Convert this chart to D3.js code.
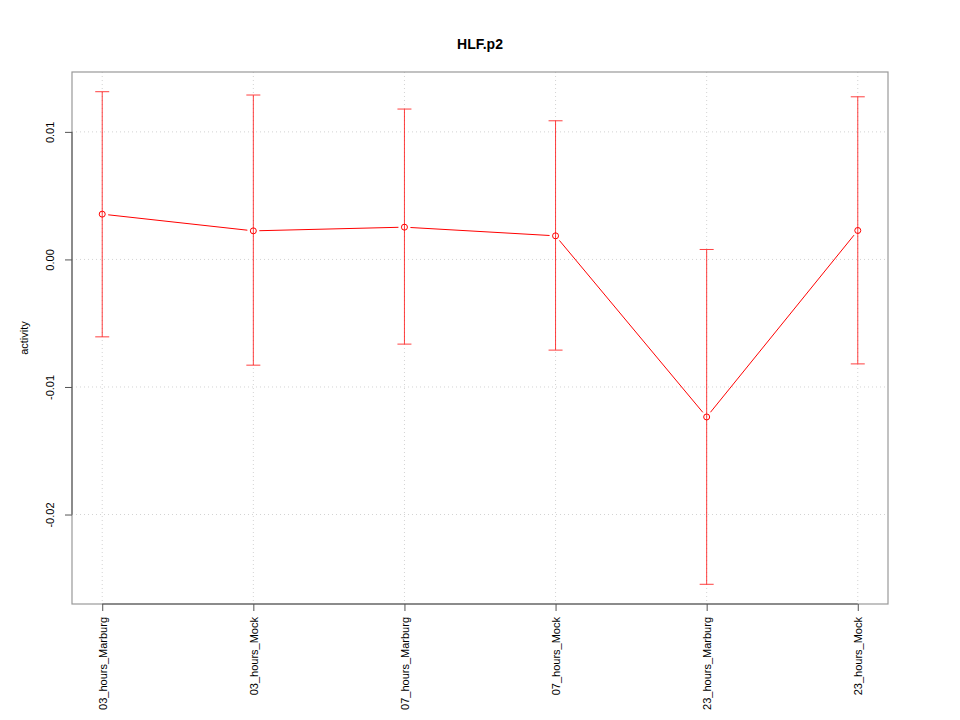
<!DOCTYPE html>
<html><head><meta charset="utf-8">
<script src="https://cdn.jsdelivr.net/npm/d3@7"></script>
<style>body{margin:0;background:#fff}svg{display:block}text{font-family:"Liberation Sans",Arial,sans-serif}</style>
</head><body>
<svg id="c" width="960" height="720"></svg>
<script>
const categories = ["03_hours_Marburg","03_hours_Mock","07_hours_Marburg","07_hours_Mock","23_hours_Marburg","23_hours_Mock"];
const values = [0.00355, 0.00224, 0.00253, 0.00185, -0.01235, 0.00227];
const upper = [0.01315, 0.01289, 0.01179, 0.01087, 0.00078, 0.01275];
const lower = [-0.00607, -0.00829, -0.00664, -0.00711, -0.02547, -0.00819];
const yTicks = [-0.02, -0.01, 0.00, 0.01];
const yTickLabels = ["-0.02", "-0.01", "0.00", "0.01"];
const title = "HLF.p2";
const yLabel = "activity";

const svg = d3.select("#c");
const L = 72, R = 888, T = 72, B = 604;
const n = categories.length;
const xpad = (n - 1) * 0.04;
const x = d3.scaleLinear().domain([1 - xpad, n + xpad]).range([L, R]);
const ymin = d3.min(lower), ymax = d3.max(upper), yp = (ymax - ymin) * 0.04;
const y = d3.scaleLinear().domain([ymin - yp, ymax + yp]).range([B, T]);
const FONT = '"Liberation Sans",Arial,sans-serif';

// grid
const g = svg.append("g");
categories.forEach((c, i) => {
  g.append("line").attr("x1", x(i + 1)).attr("x2", x(i + 1)).attr("y1", T).attr("y2", B)
    .attr("stroke", "#d3d3d3").attr("stroke-dasharray", "1,3");
});
yTicks.forEach(t => {
  g.append("line").attr("x1", L).attr("x2", R).attr("y1", y(t)).attr("y2", y(t))
    .attr("stroke", "#d3d3d3").attr("stroke-dasharray", "1,3");
});

// box
svg.append("rect").attr("x", L).attr("y", T).attr("width", R - L).attr("height", B - T)
  .attr("fill", "none").attr("stroke", "#999").attr("stroke-width", 1.2);

// axes
const yAxis = d3.axisLeft(y).tickValues(yTicks).tickFormat((d, i) => yTickLabels[i]).tickSize(7).tickPadding(0);
const ya = svg.append("g").attr("transform", `translate(${L},0)`).call(yAxis);
ya.select(".domain").attr("stroke", "#555").attr("d", `M-0,${y(yTicks[0])}V${y(yTicks[yTicks.length-1])}`);
ya.selectAll(".tick line").attr("stroke", "#555");
ya.selectAll(".tick text").attr("x", null).attr("dy", null)
  .attr("transform", "translate(-18,0) rotate(-90)").attr("text-anchor", "middle")
  .attr("font-size", 11).attr("fill", "#000").attr("font-family", FONT);

const xAxis = d3.axisBottom(x).tickValues(d3.range(1, n + 1)).tickFormat(d => categories[d - 1]).tickSize(7).tickPadding(0);
const xa = svg.append("g").attr("transform", `translate(0,${B})`).call(xAxis);
xa.select(".domain").attr("stroke", "#555").attr("d", `M${x(1)},0H${x(n)}`);
xa.selectAll(".tick line").attr("stroke", "#555");
xa.selectAll(".tick text").attr("y", null).attr("dy", null)
  .attr("transform", "translate(4,13) rotate(-90)").attr("text-anchor", "end")
  .attr("font-size", 11).attr("fill", "#000").attr("font-family", FONT);

// error bars
const red = "#ff0000";
const eb = svg.append("g").attr("stroke", red).attr("stroke-width", 1).attr("opacity", 0.75);
categories.forEach((c, i) => {
  const xx = x(i + 1);
  eb.append("line").attr("x1", xx).attr("x2", xx).attr("y1", y(upper[i])).attr("y2", y(lower[i]));
  eb.append("line").attr("x1", xx - 7).attr("x2", xx + 7).attr("y1", y(upper[i])).attr("y2", y(upper[i]));
  eb.append("line").attr("x1", xx - 7).attr("x2", xx + 7).attr("y1", y(lower[i])).attr("y2", y(lower[i]));
});

// line segments with gaps (type "b")
const gap = 6;
for (let i = 0; i < n - 1; i++) {
  const x1 = x(i + 1), y1 = y(values[i]), x2 = x(i + 2), y2 = y(values[i + 1]);
  const dx = x2 - x1, dy = y2 - y1, len = Math.hypot(dx, dy);
  const ux = dx / len, uy = dy / len;
  svg.append("line").attr("x1", x1 + ux * gap).attr("y1", y1 + uy * gap)
    .attr("x2", x2 - ux * gap).attr("y2", y2 - uy * gap).attr("stroke", red).attr("stroke-width", 1);
}
// points
svg.append("g").selectAll("circle").data(values).join("circle")
  .attr("cx", (d, i) => x(i + 1)).attr("cy", d => y(d)).attr("r", 3)
  .attr("fill", "none").attr("stroke", red).attr("stroke-width", 1);

// title & labels
svg.append("text").attr("x", (L + R) / 2).attr("y", 49).attr("text-anchor", "middle")
  .attr("font-size", 14).attr("font-weight", "bold").text(title);
svg.append("text").attr("transform", `translate(28,${(T + B) / 2}) rotate(-90)`).attr("text-anchor", "middle")
  .attr("font-size", 11).text(yLabel);
</script>
</body></html>
